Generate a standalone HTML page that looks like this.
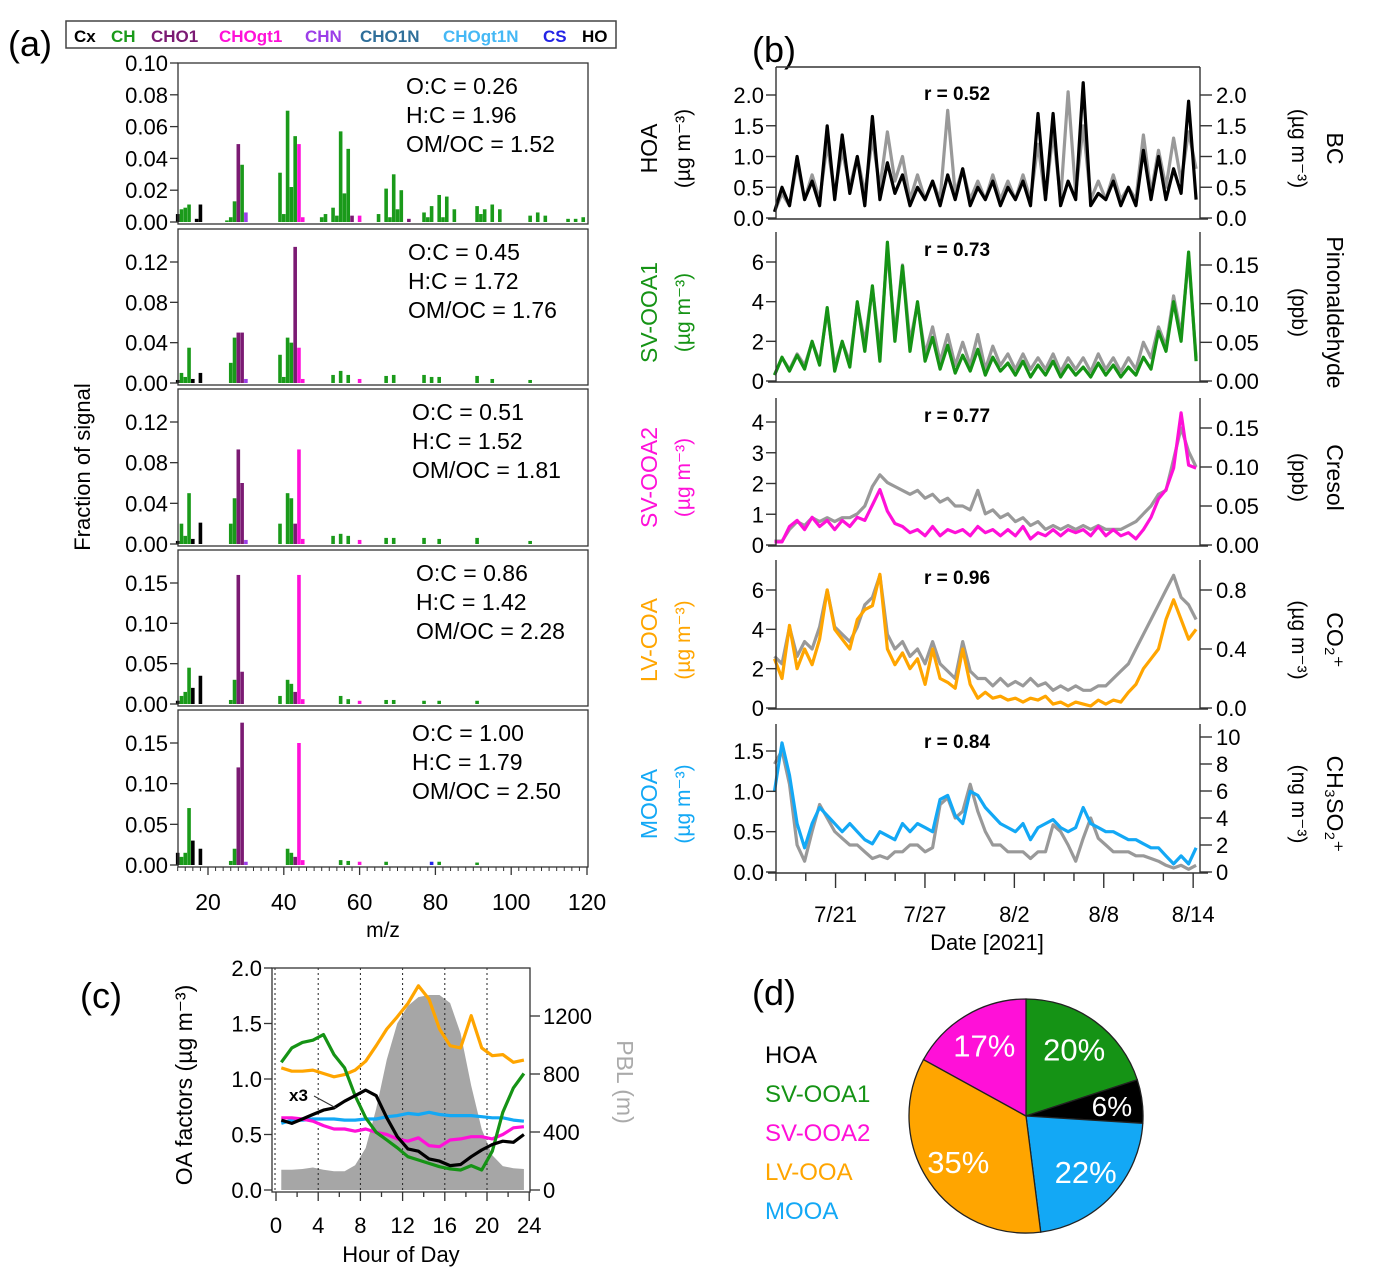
<!DOCTYPE html>
<html><head><meta charset="utf-8"><style>
body{margin:0;background:#fff;}
svg{display:block;font-family:"Liberation Sans",Arial,sans-serif;}
</style></head><body>
<svg id="fig" width="1374" height="1283" viewBox="0 0 1374 1283" xmlns="http://www.w3.org/2000/svg">
<rect width="1374" height="1283" fill="#fff"/>
<text x="8" y="56" font-size="36">(a)</text>
<text x="752" y="62" font-size="36">(b)</text>
<text x="80" y="1008" font-size="36">(c)</text>
<text x="752" y="1005" font-size="36">(d)</text>
<g id="legA">
<rect x="66" y="21" width="550" height="27" fill="#fff" stroke="#444" stroke-width="1.5"/>
<text y="42" font-size="17" font-weight="bold">
<tspan x="74" fill="#000">Cx</tspan><tspan x="111" fill="#1a9a1a">CH</tspan><tspan x="151" fill="#7b1a73">CHO1</tspan><tspan x="219" fill="#ff10d8">CHOgt1</tspan><tspan x="305" fill="#9b3ee8">CHN</tspan><tspan x="360" fill="#2f6f9a">CHO1N</tspan><tspan x="443" fill="#45b8f5">CHOgt1N</tspan><tspan x="543" fill="#2323e6">CS</tspan><tspan x="582" fill="#000">HO</tspan>
</text></g>
<g id="pa"></g><g id="pb"></g><g id="pc"></g><g id="pd"></g>
</svg>
<script>
// ---------- Panel (a) data ----------
const famColors = {Cx:'#000',CH:'#1a9a1a',CHO1:'#7b1a73',CHOgt1:'#ff10d8',CHN:'#9b3ee8',CS:'#2323e6',HO:'#000'};
const a1Mz  = [12,13,14,15,18,17,25,26,27,29,28,30,39,40,41,42,43,44,45,50,51,53,54,55,56,57,58,60,65,67,68,69,70,71,73,77,78,79,81,82,83,85,91,92,93,95,97,105,107,109,115,117,119];
const a1Val = [.005,.008,.009,.011,.011,.002,.001,.003,.013,.036,.049,.006,.031,.005,.070,.022,.054,.049,.003,.003,.005,.009,.004,.057,.018,.046,.004,.004,.005,.021,.003,.030,.008,.020,.002,.006,.003,.010,.017,.003,.016,.008,.010,.005,.008,.011,.008,.004,.006,.004,.002,.002,.003];
const a1Fam = ['Cx','CH','CH','CH','HO','HO','CH','CH','CH','CH','CHO1','CHN','CH','CH','CH','CH','CH','CHOgt1','CHOgt1','CH','CH','CH','CH','CH','CH','CH','CHO1','CHOgt1','CH','CH','CH','CH','CH','CH','CHO1','CH','CH','CH','CH','CH','CH','CH','CH','CH','CH','CH','CH','CH','CH','CH','CH','CH','CH'];
const a2Mz  = [12,13,14,15,16,18,26,27,28,29,30,39,40,41,42,43,44,45,53,55,57,60,67,69,77,79,81,91,95,105];
const a2Val = [.003,.010,.006,.035,.004,.010,.020,.045,.050,.050,.004,.028,.006,.045,.040,.135,.035,.004,.008,.012,.008,.004,.007,.008,.008,.006,.006,.007,.004,.003];
const a2Fam = ['Cx','CH','CH','CH','HO','HO','CH','CH','CHO1','CHO1','CHN','CH','CH','CH','CH','CHO1','CHOgt1','CHOgt1','CH','CH','CH','CHOgt1','CH','CH','CH','CH','CH','CH','CH','CH'];
const a3Mz  = [12,13,14,15,16,18,26,27,28,29,30,39,41,42,43,44,45,53,55,57,60,67,69,77,81,91,105];
const a3Val = [.003,.020,.008,.050,.005,.021,.020,.045,.093,.060,.004,.020,.050,.045,.020,.093,.005,.008,.010,.008,.004,.006,.006,.006,.005,.006,.003];
const a3Fam = ['Cx','CH','CH','CH','HO','HO','CH','CH','CHO1','CHO1','CHN','CH','CH','CH','CHO1','CHOgt1','CHOgt1','CH','CH','CH','CHOgt1','CH','CH','CH','CH','CH','CH'];
const a4Mz  = [12,13,14,15,16,18,26,27,28,29,39,41,42,43,44,45,55,57,60,67,69,77,81,91];
const a4Val = [.004,.010,.015,.045,.020,.035,.005,.030,.160,.040,.010,.030,.025,.015,.160,.006,.010,.006,.004,.005,.005,.004,.004,.004];
const a4Fam = ['Cx','CH','CH','CH','HO','HO','CH','CH','CHO1','CHO1','CH','CH','CH','CHO1','CHOgt1','CHOgt1','CH','CH','CHOgt1','CH','CH','CH','CH','CH'];
const a5Mz  = [12,13,14,15,16,18,26,27,28,29,30,41,42,43,44,45,55,57,60,67,79,81,91];
const a5Val = [.015,.010,.015,.070,.030,.020,.005,.020,.120,.175,.004,.020,.015,.010,.150,.006,.006,.005,.004,.004,.004,.004,.003];
const a5Fam = ['Cx','CH','CH','CH','HO','HO','CH','CH','CHO1','CHO1','CHN','CH','CH','CHO1','CHOgt1','CHOgt1','CH','CH','CHOgt1','CH','CS','CH','CH'];
const aTicks1 = [0,0.02,0.04,0.06,0.08,0.10];
const aTicks2 = [0,0.04,0.08,0.12];
const aTicks4 = [0,0.05,0.10,0.15];
const aRatios = [['O:C = 0.26','H:C = 1.96','OM/OC = 1.52'],['O:C = 0.45','H:C = 1.72','OM/OC = 1.76'],['O:C = 0.51','H:C = 1.52','OM/OC = 1.81'],['O:C = 0.86','H:C = 1.42','OM/OC = 2.28'],['O:C = 1.00','H:C = 1.79','OM/OC = 2.50']];
const aXTicks = [20,40,60,80,100,120];

// ---------- Panel (b) data (days since 7/17, evenly sampled) ----------
const hoa  = [0.1,0.5,0.2,1.0,0.3,0.6,0.2,1.5,0.3,1.35,0.4,1.0,0.2,1.65,0.3,0.9,0.4,0.7,0.2,0.5,0.3,0.6,0.2,0.7,0.3,0.8,0.2,0.5,0.3,0.6,0.2,0.5,0.3,0.6,0.2,1.7,0.3,1.7,0.2,0.6,0.3,2.2,0.2,0.4,0.3,0.6,0.2,0.5,0.2,1.1,0.3,1.0,0.3,0.8,0.4,1.9,0.3];
const bc   = [0.1,0.4,0.2,0.9,0.3,0.7,0.3,1.2,0.4,1.1,0.5,1.0,0.4,1.3,0.5,1.4,0.6,1.0,0.3,0.7,0.3,0.6,0.3,1.75,0.4,0.8,0.3,0.6,0.3,0.7,0.3,0.6,0.3,0.7,0.3,1.2,0.3,1.4,0.3,2.05,0.4,1.5,0.3,0.6,0.3,0.7,0.3,0.5,0.3,1.35,0.4,1.1,0.5,1.3,0.6,1.4,0.8];
const svooa1 = [0.3,1.2,0.5,1.3,0.6,2.0,0.8,3.7,0.5,2.0,0.7,4.0,1.5,4.8,1.0,7.0,2.0,5.8,1.5,4.0,1.0,2.2,0.6,1.8,0.4,1.3,0.5,1.6,0.3,1.2,0.5,0.9,0.3,1.0,0.2,0.8,0.3,1.0,0.2,0.8,0.3,0.7,0.2,0.9,0.3,0.8,0.2,0.7,0.3,1.2,0.6,2.5,1.5,4.0,2.0,6.5,1.0];
const pinon  = [0.008,0.03,0.015,0.035,0.02,0.05,0.025,0.09,0.02,0.05,0.025,0.10,0.05,0.12,0.04,0.17,0.06,0.15,0.05,0.10,0.035,0.07,0.025,0.06,0.02,0.05,0.02,0.06,0.015,0.045,0.02,0.035,0.015,0.035,0.015,0.03,0.015,0.035,0.012,0.03,0.015,0.03,0.012,0.035,0.015,0.03,0.012,0.03,0.015,0.05,0.03,0.07,0.045,0.11,0.06,0.16,0.03];
const svooa2 = [0.1,0.1,0.6,0.8,0.5,0.9,0.6,0.8,0.5,0.8,0.6,0.9,0.8,1.3,1.8,1.1,0.7,0.6,0.4,0.5,0.3,0.6,0.3,0.5,0.4,0.5,0.3,0.6,0.4,0.5,0.3,0.5,0.3,0.6,0.2,0.4,0.3,0.5,0.3,0.5,0.4,0.5,0.3,0.6,0.3,0.5,0.3,0.4,0.2,0.5,0.9,1.5,1.8,2.5,4.3,2.6,2.5];
const cresol = [0.005,0.005,0.02,0.03,0.025,0.035,0.03,0.035,0.03,0.035,0.035,0.04,0.05,0.075,0.09,0.08,0.075,0.07,0.065,0.07,0.06,0.065,0.055,0.06,0.05,0.05,0.045,0.07,0.04,0.045,0.035,0.04,0.03,0.035,0.025,0.03,0.02,0.025,0.02,0.025,0.02,0.025,0.02,0.025,0.02,0.02,0.02,0.025,0.03,0.04,0.05,0.065,0.07,0.11,0.15,0.12,0.10];
const lvooa  = [2.5,1.5,4.2,2.0,3.0,2.2,3.5,6.0,4.0,3.5,3.0,4.5,5.0,5.2,6.8,3.0,2.2,2.8,2.0,2.5,1.2,3.0,1.5,1.3,1.0,3.0,1.2,0.5,0.8,0.5,0.6,0.4,0.5,0.3,0.5,0.4,0.6,0.2,0.3,0.1,0.3,0.2,0.1,0.4,0.2,0.4,0.3,0.8,1.2,2.0,2.5,3.0,4.5,5.5,4.5,3.5,4.0];
const co2    = [0.35,0.3,0.55,0.35,0.45,0.4,0.55,0.8,0.55,0.5,0.45,0.55,0.7,0.75,0.9,0.5,0.4,0.45,0.35,0.4,0.3,0.45,0.3,0.25,0.2,0.45,0.25,0.2,0.2,0.15,0.2,0.15,0.18,0.15,0.2,0.15,0.17,0.12,0.15,0.12,0.15,0.12,0.12,0.15,0.15,0.2,0.25,0.3,0.4,0.5,0.6,0.7,0.8,0.9,0.75,0.7,0.6];
const mooa   = [1.0,1.6,1.2,0.6,0.3,0.6,0.8,0.7,0.6,0.5,0.6,0.5,0.4,0.35,0.5,0.45,0.4,0.6,0.5,0.6,0.55,0.5,0.9,0.95,0.7,0.6,1.0,0.95,0.8,0.7,0.6,0.55,0.5,0.6,0.4,0.55,0.6,0.65,0.55,0.5,0.55,0.8,0.6,0.55,0.5,0.5,0.45,0.4,0.4,0.35,0.3,0.3,0.2,0.1,0.2,0.1,0.3];
const ch3so2 = [8.0,9.0,6.5,2.0,0.8,3.0,5.0,4.0,3.0,2.5,2.0,2.0,1.5,1.0,1.2,1.0,1.5,1.5,2.0,2.0,1.5,1.8,5.0,5.5,4.0,4.5,6.5,4.5,3.0,2.0,2.0,1.5,1.5,1.5,1.0,1.5,1.5,3.5,3.0,2.0,0.8,2.5,4.0,2.5,2.0,1.5,1.5,1.5,1.2,1.2,1.0,0.8,0.5,0.3,0.5,0.2,0.5];
const bDateLabels = ['7/21','7/27','8/2','8/8','8/14'];
const bDateDays   = [4,10,16,22,28];
const bRvals = ['r = 0.52','r = 0.73','r = 0.77','r = 0.96','r = 0.84'];

// ---------- Panel (c) data ----------
const hours  = [0.5,1.5,2.5,3.5,4.5,5.5,6.5,7.5,8.5,9.5,10.5,11.5,12.5,13.5,14.5,15.5,16.5,17.5,18.5,19.5,20.5,21.5,22.5,23.5];
const cSV1   = [1.15,1.28,1.33,1.35,1.40,1.22,1.10,0.85,0.65,0.52,0.45,0.38,0.30,0.27,0.24,0.21,0.19,0.18,0.22,0.18,0.35,0.70,0.92,1.05];
const cLV    = [1.10,1.07,1.07,1.08,1.05,1.02,1.04,1.08,1.16,1.30,1.45,1.56,1.68,1.84,1.72,1.45,1.30,1.28,1.57,1.28,1.21,1.22,1.15,1.17];
const cSV2   = [0.65,0.65,0.64,0.62,0.58,0.55,0.55,0.53,0.55,0.52,0.50,0.46,0.44,0.47,0.40,0.39,0.45,0.46,0.48,0.48,0.46,0.50,0.56,0.57];
const cMOOA  = [0.60,0.63,0.63,0.64,0.64,0.64,0.63,0.63,0.64,0.64,0.66,0.67,0.69,0.68,0.70,0.68,0.67,0.67,0.67,0.66,0.65,0.65,0.63,0.62];
const cHOA3  = [0.63,0.60,0.64,0.68,0.72,0.74,0.80,0.85,0.90,0.85,0.65,0.48,0.37,0.35,0.28,0.26,0.22,0.23,0.30,0.36,0.41,0.44,0.43,0.50];
const cPBL   = [140,140,145,155,140,130,130,170,290,560,900,1150,1270,1330,1345,1345,1290,1080,720,420,240,165,150,145];
const cYTicks = [0,0.5,1.0,1.5,2.0];
const cPTicks = [0,400,800,1200];
const cXTicks = [0,4,8,12,16,20,24];

// ---------- Panel (d) data ----------
const pieNames = ['SV-OOA1','HOA','MOOA','LV-OOA','SV-OOA2'];
const pieVals  = [20,6,22,35,17];
const pieCols  = ['#159315','#000000','#13a8f5','#ffa500','#ff10d8'];
const legNames = ['HOA','SV-OOA1','SV-OOA2','LV-OOA','MOOA'];
const legCols  = ['#000','#159315','#ff10d8','#ffa500','#13a8f5'];

// ---------- helpers ----------
const NS='http://www.w3.org/2000/svg';
function mk(tag, parent, attrs){const e=document.createElementNS(NS,tag);for(const k in attrs)e.setAttribute(k,attrs[k]);parent.appendChild(e);return e;}
function txt(parent,x,y,s,size,anchor,fill,extra){const e=mk('text',parent,{x:x,y:y,'font-size':size,'text-anchor':anchor||'start',fill:fill||'#000'});if(extra)for(const k in extra)e.setAttribute(k,extra[k]);e.textContent=s;return e;}
function fmt(v,d){return v.toFixed(d);}

// ---------- draw (a) ----------
const pa=document.getElementById('pa');
const aX0=178, aX1=588;
const ax = mz => 208+(mz-20)*3.79;
const aPanels=[
 {mz:a1Mz,v:a1Val,f:a1Fam,top:63,zero:222,max:0.10,ticks:aTicks1,dec:2},
 {mz:a2Mz,v:a2Val,f:a2Fam,top:229,zero:383,max:0.12*(383-229)/(383-262),ticks:aTicks2,dec:2},
 {mz:a3Mz,v:a3Val,f:a3Fam,top:389,zero:544,max:0.12*(544-389)/(544-422),ticks:aTicks2,dec:2},
 {mz:a4Mz,v:a4Val,f:a4Fam,top:550,zero:704,max:0.15*(704-550)/(704-583),ticks:aTicks4,dec:2},
 {mz:a5Mz,v:a5Val,f:a5Fam,top:710,zero:865,max:0.15*(865-710)/(865-743),ticks:aTicks4,dec:2}];
aPanels.forEach((p,pi)=>{
  const g=mk('g',pa,{});
  
  
  const ay=v=>p.zero-(v/p.max)*(p.zero-p.top);
  p.mz.forEach((m,i)=>{
    const h=(p.v[i]/p.max)*(p.zero-p.top);
    const r=mk('rect',g,{x:ax(m)-1.8,y:p.zero-h,width:3.6,height:h,fill:famColors[p.f[i]]});
    
    
  });
  mk('rect',g,{x:aX0,y:p.top,width:aX1-aX0,height:p.zero+2-p.top,fill:'none',stroke:'#333','stroke-width':1.3});
  p.ticks.forEach(t=>{const y=ay(t);mk('line',g,{x1:aX0-8,x2:aX0,y1:y,y2:y,stroke:'#333','stroke-width':1.3});
    const tl=txt(g,aX0-10,y+8,fmt(t,2),22,'end');
    
    });
  const rx=[406,408,412,416,412][pi];
  aRatios[pi].forEach((s,k)=>{const t=txt(g,rx,p.top+31+k*29,s,23,'start');
    
    });
});
aXTicks.forEach(t=>{const x=ax(t);mk('line',pa,{x1:x,x2:x,y1:867,y2:875,stroke:'#333','stroke-width':1.3});
  const tl=txt(pa,x,910,String(t),23,'middle');
  
  });
for(let m=12;m<=120;m+=2){const x=ax(m);if((m%20)!==0)mk('line',pa,{x1:x,x2:x,y1:867,y2:871,stroke:'#333','stroke-width':1});}
{const t=txt(pa,383,937,'m/z',21,'middle');
 const y=txt(pa,0,0,'Fraction of signal',22,'middle','#000',{transform:'translate(90,467) rotate(-90)'});
 }

// ---------- draw (b) ----------
const pb=document.getElementById('pb');
const bL=776,bR=1200;
const bx = d => 770+d*14.9;
const tStart=0.3, tEnd=28.6;
const tAt=(i,n)=>tStart+i*(tEnd-tStart)/(n-1);
function series(g,arr,ymap,color,w,name){
  let d='';arr.forEach((v,i)=>{const x=bx(tAt(i,arr.length)),y=ymap(v);d+=(i?'L':'M')+x.toFixed(1)+' '+y.toFixed(1);});
  const p=mk('path',g,{d:d,fill:'none',stroke:color,'stroke-width':w,'stroke-linejoin':'round'});
  
  
}
const bPanels=[
 {top:67,zero:218,L:hoa,R:bc,lc:'#000',lmax:2.0,ly:95,lt:[0,0.5,1.0,1.5,2.0],ld:1,rmax:2.0,ry:95,rt:[0,0.5,1.0,1.5,2.0],rd:1,
  lt1:'HOA',lt2:'(µg m⁻³)',ltc:'#000',rt1:'BC',rt2:'(µg m⁻³)',nl:'hoa-line',nr:'bc-line',topLine:true},
 {top:232,zero:381,L:svooa1,R:pinon,lc:'#159315',lmax:6,ly:262,lt:[0,2,4,6],ld:0,rmax:0.15,ry:265,rt:[0,0.05,0.10,0.15],rd:2,
  lt1:'SV-OOA1',lt2:'(µg m⁻³)',ltc:'#159315',rt1:'Pinonaldehyde',rt2:'(ppb)',nl:'sv-ooa1-line',nr:'pinonaldehyde-line'},
 {top:398,zero:545,L:svooa2,R:cresol,lc:'#ff10d8',lmax:4,ly:422,lt:[0,1,2,3,4],ld:0,rmax:0.15,ry:428,rt:[0,0.05,0.10,0.15],rd:2,
  lt1:'SV-OOA2',lt2:'(µg m⁻³)',ltc:'#ff10d8',rt1:'Cresol',rt2:'(ppb)',nl:'sv-ooa2-line',nr:'cresol-line'},
 {top:560,zero:708,L:lvooa,R:co2,lc:'#ffa500',lmax:6,ly:590,lt:[0,2,4,6],ld:0,rmax:0.8,ry:590,rt:[0,0.4,0.8],rd:1,
  lt1:'LV-OOA',lt2:'(µg m⁻³)',ltc:'#ffa500',rt1:'CO₂⁺',rt2:'(µg m⁻³)',nl:'lv-ooa-line',nr:'co2-line'},
 {top:724,zero:872,L:mooa,R:ch3so2,lc:'#13a8f5',lmax:1.5,ly:751,lt:[0,0.5,1.0,1.5],ld:1,rmax:10,ry:737,rt:[0,2,4,6,8,10],rd:0,
  lt1:'MOOA',lt2:'(µg m⁻³)',ltc:'#13a8f5',rt1:'CH₃SO₂⁺',rt2:'(ng m⁻³)',nl:'mooa-line',nr:'ch3so2-line'}];
bPanels.forEach((p,pi)=>{
  const g=mk('g',pb,{});
  
  
  const ly=v=>p.zero-v/p.lmax*(p.zero-p.ly);
  const ry=v=>p.zero-v/p.rmax*(p.zero-p.ry);
  series(g,p.R,ry,'#999',3.2,p.nr);series(g,p.L,ly,p.lc,3.2,p.nl);
  mk('line',g,{x1:bL,x2:bL,y1:p.top,y2:p.zero+1,stroke:'#333','stroke-width':1.4});
  mk('line',g,{x1:bR,x2:bR,y1:p.top,y2:p.zero+1,stroke:'#333','stroke-width':1.4});
  mk('line',g,{x1:bL-8,x2:bR+8,y1:p.zero+1,y2:p.zero+1,stroke:'#333','stroke-width':1.4});
  if(p.topLine)mk('line',g,{x1:bL,x2:bR,y1:p.top,y2:p.top,stroke:'#333','stroke-width':1.4});
  p.lt.forEach(t=>{const y=ly(t);mk('line',g,{x1:bL-10,x2:bL,y1:y,y2:y,stroke:'#333','stroke-width':1.4});
    const e=txt(g,bL-12,y+8,fmt(t,p.ld),22,'end');});
  p.rt.forEach(t=>{const y=ry(t);mk('line',g,{x1:bR,x2:bR+12,y1:y,y2:y,stroke:'#333','stroke-width':1.4});
    const e=txt(g,bR+16,y+8,fmt(t,p.rd),22,'start');});
  const mid=(p.top+p.zero)/2+6;
  const r=txt(g,957,p.top+(pi===0?33:24),bRvals[pi],19,'middle','#000',{'font-weight':'bold'});
  
  const a1=txt(g,0,0,p.lt1,23,'middle',p.ltc,{transform:`translate(657,${mid}) rotate(-90)`});
  
  const a2=txt(g,0,0,p.lt2,21,'middle',p.ltc,{transform:`translate(690,${mid}) rotate(-90)`});
  
  const r1=txt(g,0,0,p.rt1,23,'middle','#000',{transform:`translate(1327,${mid}) rotate(90)`});
  
  const r2=txt(g,0,0,p.rt2,21,'middle','#000',{transform:`translate(1292,${mid}) rotate(90)`});
  
});
for(let d=0;d<=28;d+=2){const x=bx(d+0.4);const major=bDateDays.includes(d);mk('line',pb,{x1:x,x2:x,y1:873,y2:major?888:881,stroke:'#333','stroke-width':1.4});}
bDateLabels.forEach((s,i)=>{const e=txt(pb,bx(bDateDays[i]+0.4),922,s,22,'middle');});
{const e=txt(pb,987,950,'Date [2021]',22,'middle');}

// ---------- draw (c) ----------
const pc=document.getElementById('pc');
const cL=272,cR=530,cTop=968,cZero=1190;
const cx=h=>276+h*10.55;
const cy=v=>cZero-v/2.0*(cZero-968);
const cp=v=>cZero-v/1200*(cZero-1016);
{let d='M'+cx(hours[0])+' '+cZero;hours.forEach((h,i)=>{d+='L'+cx(h).toFixed(1)+' '+cp(cPBL[i]).toFixed(1);});d+='L'+cx(hours[hours.length-1])+' '+cZero+'Z';
 const e=mk('path',pc,{d:d,fill:'#a6a6a6'});}
[4,8,12,16,20].forEach(h=>mk('line',pc,{x1:cx(h),x2:cx(h),y1:cTop,y2:cZero,stroke:'#222','stroke-width':1,'stroke-dasharray':'2,3'}));
mk('line',pc,{x1:cx(0)-1,x2:cx(0)-1,y1:cTop,y2:cZero,stroke:'#222','stroke-width':1,'stroke-dasharray':'2,3'});
function cline(arr,col,name){let d='';arr.forEach((v,i)=>{d+=(i?'L':'M')+cx(hours[i]).toFixed(1)+' '+cy(v).toFixed(1);});
 const e=mk('path',pc,{d:d,fill:'none',stroke:col,'stroke-width':3.2,'stroke-linejoin':'round'});}
cline(cMOOA,'#13a8f5','mooa-diurnal');
cline(cSV2,'#ff10d8','sv-ooa2-diurnal');
cline(cLV,'#ffa500','lv-ooa-diurnal');
cline(cSV1,'#159315','sv-ooa1-diurnal');
cline(cHOA3,'#000','hoa-diurnal-x3');
mk('rect',pc,{x:cL,y:cTop,width:cR-cL,height:cZero+2-cTop,fill:'none',stroke:'#333','stroke-width':1.3});
cYTicks.forEach(t=>{const y=cy(t);mk('line',pc,{x1:cL-8,x2:cL,y1:y,y2:y,stroke:'#333','stroke-width':1.3});
  const e=txt(pc,cL-10,y+8,fmt(t,1),22,'end');});
cPTicks.forEach(t=>{const y=cp(t);mk('line',pc,{x1:cR,x2:cR+10,y1:y,y2:y,stroke:'#333','stroke-width':1.3});
  const e=txt(pc,cR+13,y+8,String(t),22,'start');});
for(let h=0;h<=24;h+=2){const x=cx(h);mk('line',pc,{x1:x,x2:x,y1:cZero+2,y2:cZero+(h%4===0?11:7),stroke:'#333','stroke-width':1.3});}
cXTicks.forEach(t=>{const e=txt(pc,cx(t),1233,String(t),22,'middle');});
{const e=txt(pc,401,1262,'Hour of Day',22,'middle');
 const y=txt(pc,0,0,'OA factors (µg m⁻³)',23,'middle','#000',{transform:'translate(192,1085) rotate(-90)'});
 const p=txt(pc,0,0,'PBL (m)',23,'middle','#aaa',{transform:'translate(617,1082) rotate(90)'});
 const x3=txt(pc,289,1101,'x3',17,'start','#000',{'font-weight':'bold'});
 mk('line',pc,{x1:314,y1:1096,x2:336,y2:1108,stroke:'#333','stroke-width':1});}

// ---------- draw (d) ----------
const pd=document.getElementById('pd');
const pcx=1026,pcy=1116,pr=117;
let acc=0;const total=pieVals.reduce((a,b)=>a+b,0);
pieVals.forEach((v,i)=>{
  const a0=acc/total*2*Math.PI, a1=(acc+v)/total*2*Math.PI; acc+=v;
  const p0=[pcx+pr*Math.sin(a0),pcy-pr*Math.cos(a0)], p1=[pcx+pr*Math.sin(a1),pcy-pr*Math.cos(a1)];
  const e=mk('path',pd,{d:`M${pcx} ${pcy}L${p0[0].toFixed(1)} ${p0[1].toFixed(1)}A${pr} ${pr} 0 ${a1-a0>Math.PI?1:0} 1 ${p1[0].toFixed(1)} ${p1[1].toFixed(1)}Z`,fill:pieCols[i],stroke:'#222','stroke-width':1.3});
  
  
  const am=(a0+a1)/2, rr=(v<10)?0.74:0.7;
  const t=txt(pd,pcx+pr*rr*Math.sin(am),pcy-pr*rr*Math.cos(am)+11,v+'%',(v<10)?28:31,'middle','#fff');
  
  
});
legNames.forEach((n,i)=>{const e=txt(pd,765,1063+i*39,n,24,'start',legCols[i]);
  
  });
</script>
</body></html>
